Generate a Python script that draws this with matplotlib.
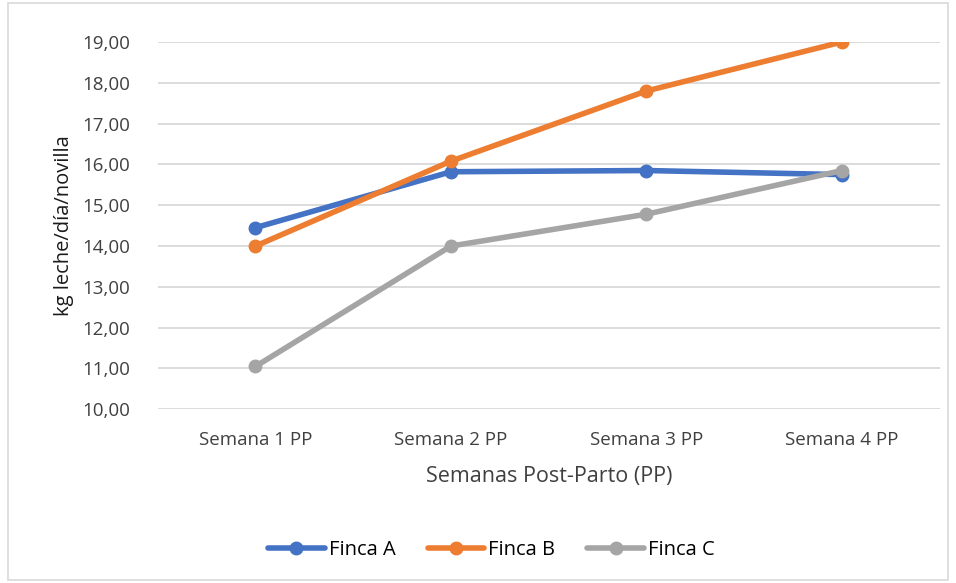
import matplotlib.pyplot as plt
from matplotlib.patches import Rectangle

# datos
semanas = ["Semana 1 PP", "Semana 2 PP", "Semana 3 PP", "Semana 4 PP"]
finca_a = [14.45, 15.82, 15.85, 15.75]
finca_b = [14.00, 16.08, 17.80, 19.00]
finca_c = [11.05, 14.00, 14.78, 15.85]
yticks = [10, 11, 12, 13, 14, 15, 16, 17, 18, 19]

plt.rcParams['font.family'] = ['Open Sans', 'DejaVu Sans']

fig = plt.figure(figsize=(9.56, 5.83), dpi=100)
ax = fig.add_axes([0.165, 0.298, 0.818, 0.63])

x = range(len(semanas))
ax.plot(x, finca_a, color="#4472C4", lw=4, marker="o", ms=9, label="Finca A", solid_capstyle="round")
ax.plot(x, finca_b, color="#ED7D31", lw=4, marker="o", ms=9, label="Finca B", solid_capstyle="round")
ax.plot(x, finca_c, color="#A5A5A5", lw=4, marker="o", ms=9, label="Finca C", solid_capstyle="round")

ax.set_xlim(-0.5, 3.5)
ax.set_ylim(10, 19)
ax.set_yticks(yticks)
ax.set_yticklabels([f"{v:.2f}".replace(".", ",") for v in yticks], fontsize=13.5, color="#404040")
ax.set_xticks(list(x))
ax.set_xticklabels(semanas, fontsize=13.5, color="#404040")
ax.grid(axis="y", color="#D9D9D9", lw=1.3)
ax.set_axisbelow(True)
for s in ax.spines.values():
    s.set_visible(False)
ax.tick_params(axis="x", length=0, pad=16)
ax.tick_params(axis="y", length=0, pad=20)

ax.set_ylabel("kg leche/día/novilla", fontsize=14.5, color="#1a1a1a", labelpad=6)
ax.set_xlabel("Semanas Post-Parto (PP)", fontsize=15.5, color="#404040", labelpad=12)

fig.legend(loc="center", bbox_to_anchor=(0.514, 0.057), ncol=3, frameon=False,
           fontsize=14.5, handlelength=2.8, columnspacing=1.6, handletextpad=0.2)

# borde del gráfico
fig.patches.append(Rectangle((0.008, 0.005), 0.984, 0.99, transform=fig.transFigure,
                             fill=False, edgecolor="#D9D9D9", lw=1.2))

fig.savefig("out.png", dpi=100)
